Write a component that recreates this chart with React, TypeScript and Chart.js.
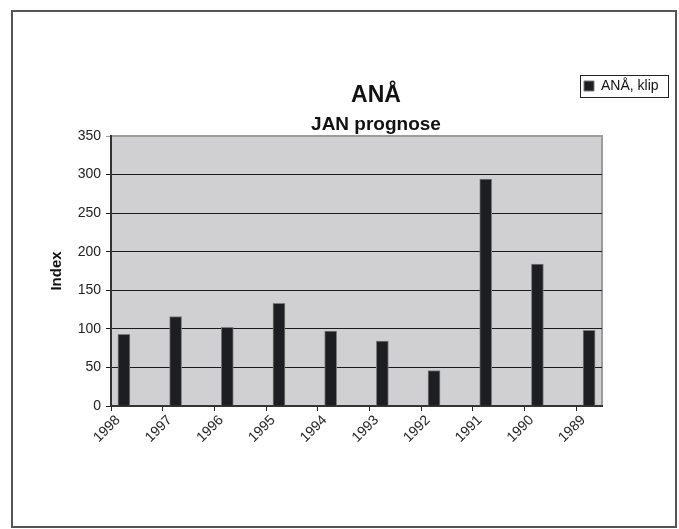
import React, { useEffect, useRef } from "react";
import { Chart, registerables } from "chart.js";

Chart.register(...registerables);

const years = ["1998", "1997", "1996", "1995", "1994", "1993", "1992", "1991", "1990", "1989"];
const values = [93, 116, 102, 133, 97, 84, 46, 294, 184, 98];
const seriesLabel = "ANÅ, klip";
const chartTitle = "ANÅ";
const chartSubtitle = "JAN prognose";
const yTitle = "Index";
const yMin = 0;
const yMax = 350;
const yStep = 50;

const FONT = "'Liberation Sans', Arial, Helvetica, sans-serif";
const BAR_SHIFT = 0.25;

export default function App() {
  const ref = useRef<HTMLCanvasElement>(null);

  useEffect(() => {
    const canvas = ref.current!;
    const framePlugin = {
      id: "frame",
      beforeDraw(chart: any) {
        const { ctx, chartArea: a } = chart;
        ctx.save();
        ctx.fillStyle = "#d0d0d2";
        ctx.fillRect(a.left, a.top, a.right - a.left, a.bottom - a.top);
        ctx.strokeStyle = "#9c9c9c";
        ctx.lineWidth = 2;
        ctx.beginPath();
        ctx.moveTo(a.left, a.top);
        ctx.lineTo(a.right, a.top);
        ctx.lineTo(a.right, a.bottom);
        ctx.stroke();
        ctx.restore();
      },
      afterLayout(chart: any) {
        for (const b of chart.boxes) {
          if (b === chart.titleBlock || (b.options && b.options.text === chartSubtitle)) {
            b.left = 226;
            b.right = 526;
          }
        }
        const lg = chart.legend;
        if (lg) {
          const w = lg.width;
          lg.left = 580;
          lg.top = 75;
          lg.right = 580 + w;
          lg.bottom = 75 + 30;
        }
      },
      afterDraw(chart: any) {
        const lg = chart.legend;
        if (!lg || !lg.legendHitBoxes || !lg.legendHitBoxes.length) return;
        const hb = lg.legendHitBoxes[0];
        const { ctx } = chart;
        ctx.save();
        ctx.strokeStyle = "#222";
        ctx.lineWidth = 1;
        const l = Math.round(hb.left - 4) + 0.5;
        const t = Math.round(hb.top - 4) + 0.5;
        ctx.strokeRect(l, t, Math.round(hb.width + 13), Math.round(hb.height + 8));
        ctx.restore();
      },
    };

    const chart = new Chart(canvas, {
      type: "bar",
      data: {
        datasets: [
          {
            label: seriesLabel,
            data: values.map((v, i) => ({ x: i + BAR_SHIFT, y: v })),
            backgroundColor: "#1d1e22",
            borderColor: "#7a7a7a",
            borderWidth: 1,
            barThickness: 12,
          },
        ],
      },
      options: {
        animation: false,
        responsive: false,
        layout: { padding: { top: 0, left: 0, right: 77, bottom: 0 } },
        plugins: {
          title: {
            display: true,
            text: chartTitle,
            color: "#111",
            font: { family: FONT, size: 23, weight: "bold", lineHeight: 1.2 },
            padding: { top: 82.2, bottom: 0 },
          },
          subtitle: {
            display: true,
            text: chartSubtitle,
            color: "#111",
            font: { family: FONT, size: 19, weight: "bold", lineHeight: 1.2 },
            padding: { top: 3.2, bottom: 0.2 },
          },
          legend: {
            display: true,
            position: "chartArea",
            align: "start",
            labels: {
              boxWidth: 10,
              boxHeight: 10,
              padding: 4,
              color: "#111",
              font: { family: FONT, size: 14 },
            },
          },
          tooltip: { enabled: false },
        },
        scales: {
          x: {
            type: "linear",
            min: 0,
            max: years.length - 0.5,
            offset: false,
            ticks: {
              stepSize: 1,
              includeBounds: false,
              autoSkip: false,
              minRotation: 45,
              maxRotation: 45,
              labelOffset: 7,
              padding: 1,
              color: "#222",
              font: { family: FONT, size: 14 },
              callback: (v: any) => (Number.isInteger(v) && years[v] !== undefined ? years[v] : null),
            },
            grid: { offset: false, drawOnChartArea: false, drawTicks: true, tickLength: 5, color: "#222", lineWidth: 1 },
            border: { color: "#333", width: 2 },
            afterFit: (s: any) => {
              s.height = 123;
            },
          },
          y: {
            min: yMin,
            max: yMax,
            ticks: { stepSize: yStep, padding: 5, color: "#222", font: { family: FONT, size: 14 } },
            grid: {
              color: (c: any) => (c.tick && c.tick.value === yMax ? "#9c9c9c" : "#1a1a1a"),
              lineWidth: 1,
              tickLength: 5,
            },
            border: { color: "#333", width: 2 },
            title: {
              display: true,
              text: yTitle,
              color: "#111",
              font: { family: FONT, size: 15, weight: "bold", lineHeight: 1.2 },
              padding: { top: 48, bottom: 0 },
            },
            afterFit: (s: any) => {
              s.width = 111;
            },
          },
        },
      },
      plugins: [framePlugin],
    } as any);

    return () => chart.destroy();
  }, []);

  return (
    <div style={{ position: "absolute", left: 0, top: 0, width: 679, height: 529, overflow: "hidden", background: "#fff" }}>
      <div
        style={{
          position: "absolute",
          left: 11,
          top: 10,
          width: 666,
          height: 518,
          border: "2px solid #555",
          boxSizing: "border-box",
        }}
      />
      <canvas ref={ref} width={679} height={529} style={{ position: "absolute", left: 0, top: 0, display: "block" }} />
    </div>
  );
}
